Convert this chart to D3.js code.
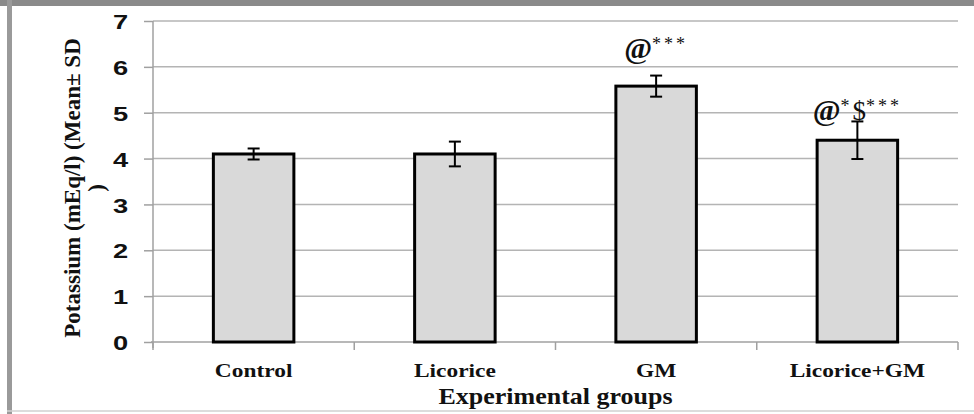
<!DOCTYPE html>
<html>
<head>
<meta charset="utf-8">
<script src="https://cdn.jsdelivr.net/npm/d3@7"></script>
<style>
  html, body { margin: 0; padding: 0; background: #fff; }
  svg { display: block; }
</style>
</head>
<body>
<div id="chart"></div>
<script>
// ---- data ----
const categories = ["Control", "Licorice", "GM", "Licorice+GM"];
const means = [4.1, 4.1, 5.58, 4.4];
const sds = [0.12, 0.27, 0.23, 0.41];
const annotations = ["", "", "@***", "@*$***"];
const annotationLevels = [null, null, 6.2, 4.85];
const yTicks = [0, 1, 2, 3, 4, 5, 6, 7];
const yTitle = ["Potassium (mEq/l) (Mean\u00b1 SD", ")"];
const xTitle = "Experimental groups";

// ---- layout ----
const W = 974, H = 414;
const plot = { left: 153, right: 958, top: 21, bottom: 342 };
const stretch = 1.3;

const svg = d3.select("#chart").append("svg").attr("width", W).attr("height", H);

// frame
svg.append("rect").attr("x", 0).attr("y", 0).attr("width", W).attr("height", 6).attr("fill", "#8a8a8a");
svg.append("rect").attr("x", 7).attr("y", 0).attr("width", 5).attr("height", H).attr("fill", "#9a9a9a");
svg.append("line").attr("x1", 7).attr("x2", W).attr("y1", 411).attr("y2", 411)
  .attr("stroke", "#d0d0d0").attr("stroke-width", 1.5);

const x = d3.scaleBand().domain(categories).range([plot.left, plot.right])
  .paddingInner(0.6).paddingOuter(0.3);
const y = d3.scaleLinear().domain([0, 7]).range([plot.bottom, plot.top]);

// gridlines
svg.append("g").selectAll("line").data(yTicks.filter(d => d > 0)).join("line")
  .attr("x1", plot.left).attr("x2", plot.right)
  .attr("y1", d => y(d)).attr("y2", d => y(d))
  .attr("stroke", "#b4b4b4").attr("stroke-width", 1.5);

// y axis
const yAxis = svg.append("g").attr("transform", `translate(${plot.left},0)`)
  .call(d3.axisLeft(y).tickValues(yTicks).tickFormat(d3.format("d")).tickSize(9).tickPadding(10).tickSizeOuter(0));
yAxis.select(".domain").attr("stroke", "#a0a0a0").attr("stroke-width", 1.5)
  .attr("d", `M0,${plot.top}V${plot.bottom + 6}`);
yAxis.selectAll(".tick line").attr("stroke", "#a0a0a0").attr("stroke-width", 1.5);
yAxis.selectAll(".tick text")
  .attr("font-family", "'Liberation Sans', Arial, sans-serif")
  .attr("font-weight", "bold").attr("font-size", 21).attr("fill", "#111")
  .attr("x", -19).attr("dy", "0.36em")
  .attr("transform", `scale(${stretch},1)`);

// x axis
const xAxis = svg.append("g").attr("transform", `translate(0,${plot.bottom})`)
  .call(d3.axisBottom(x).tickSize(0).tickPadding(0));
xAxis.select(".domain").remove();
xAxis.selectAll(".tick text")
  .attr("font-family", "'Liberation Serif', 'Times New Roman', serif")
  .attr("font-weight", "bold").attr("font-size", 18).attr("fill", "#111")
  .attr("y", 35).attr("dy", 0)
  .attr("transform", `scale(${stretch},1)`);
// boundary ticks
const boundaries = d3.range(categories.length + 1).map(i => plot.left + i * (plot.right - plot.left) / categories.length);
svg.append("line").attr("x1", plot.left - 2).attr("x2", plot.right).attr("y1", plot.bottom).attr("y2", plot.bottom)
  .attr("stroke", "#a0a0a0").attr("stroke-width", 1.5);
svg.append("g").selectAll("line").data(boundaries).join("line")
  .attr("x1", d => d).attr("x2", d => d).attr("y1", plot.bottom).attr("y2", plot.bottom + 8)
  .attr("stroke", "#a0a0a0").attr("stroke-width", 1.5);

// bars
svg.append("g").selectAll("rect").data(categories).join("rect")
  .attr("x", d => x(d)).attr("width", x.bandwidth())
  .attr("y", (d, i) => y(means[i])).attr("height", (d, i) => y(0) - y(means[i]))
  .attr("fill", "#d9d9d9").attr("stroke", "#000").attr("stroke-width", 3);

// error bars
const eb = svg.append("g").attr("stroke", "#000").attr("stroke-width", 2);
categories.forEach((c, i) => {
  const cx = x(c) + x.bandwidth() / 2;
  const top = y(means[i] + sds[i]), bot = y(means[i] - sds[i]);
  eb.append("line").attr("x1", cx).attr("x2", cx).attr("y1", top).attr("y2", bot);
  eb.append("line").attr("x1", cx - 6).attr("x2", cx + 6).attr("y1", top).attr("y2", top);
  eb.append("line").attr("x1", cx - 6).attr("x2", cx + 6).attr("y1", bot).attr("y2", bot);
});

// significance annotations
categories.forEach((c, i) => {
  if (!annotations[i]) return;
  const cx = x(c) + x.bandwidth() / 2;
  const t = svg.append("text").attr("x", cx).attr("y", y(annotationLevels[i]))
    .attr("text-anchor", "middle")
    .attr("font-family", "'Liberation Serif', 'Times New Roman', serif").attr("fill", "#111");
  let raised = false;
  for (const ch of annotations[i]) {
    const s = t.append("tspan").text(ch);
    if (ch === "@") {
      s.attr("font-size", 30).attr("font-weight", "bold");
      if (raised) { s.attr("dy", 8); raised = false; }
    } else if (ch === "$") {
      s.attr("font-size", 27);
      if (raised) { s.attr("dy", 8); raised = false; }
    } else {
      s.attr("font-size", 18).attr("letter-spacing", 3);
      if (!raised) { s.attr("dy", -8); raised = true; }
    }
  }
});

// y axis title
const yt = svg.append("text")
  .attr("transform", `translate(80,188) rotate(-90)`)
  .attr("text-anchor", "middle")
  .attr("font-family", "'Liberation Serif', 'Times New Roman', serif")
  .attr("font-weight", "bold").attr("font-size", 23).attr("fill", "#111");
yt.selectAll("tspan").data(yTitle).join("tspan")
  .attr("x", 0).attr("dy", (d, i) => i === 0 ? 0 : 24).text(d => d);

// x axis title
svg.append("text")
  .attr("transform", `translate(${(plot.left + plot.right) / 2},404) scale(1.13,1)`)
  .attr("text-anchor", "middle")
  .attr("font-family", "'Liberation Serif', 'Times New Roman', serif")
  .attr("font-weight", "bold").attr("font-size", 23).attr("fill", "#111")
  .text(xTitle);
</script>
</body>
</html>
